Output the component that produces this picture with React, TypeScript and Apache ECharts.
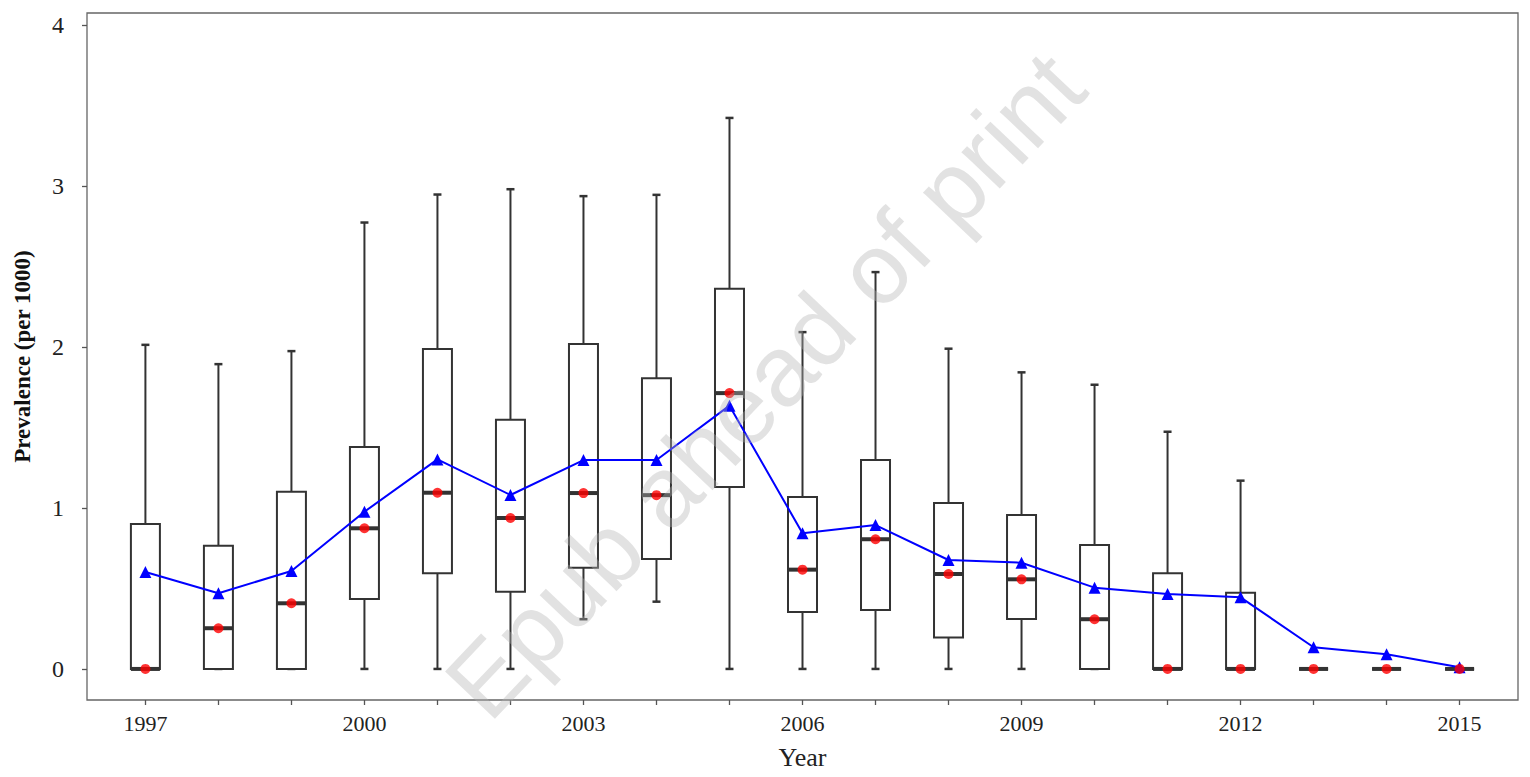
import React, { useEffect, useRef } from "react";
import * as echarts from "echarts";

const years = [1997, 1998, 1999, 2000, 2001, 2002, 2003, 2004, 2005, 2006, 2007, 2008, 2009, 2010, 2011, 2012, 2013, 2014, 2015];
const lowWhisker = [0, 0, 0, 0, 0, 0, 0.309, 0.418, 0, 0, 0, 0, 0, 0, 0, 0, 0, 0, 0];
const q1 = [0, 0, 0, 0.435, 0.594, 0.48, 0.629, 0.683, 1.13, 0.354, 0.366, 0.195, 0.311, 0, 0, 0, 0, 0, 0];
const median = [0, 0.253, 0.408, 0.874, 1.095, 0.938, 1.093, 1.08, 1.714, 0.617, 0.806, 0.59, 0.557, 0.309, 0, 0, 0, 0, 0];
const q3 = [0.9, 0.766, 1.101, 1.379, 1.988, 1.549, 2.019, 1.807, 2.362, 1.068, 1.298, 1.031, 0.957, 0.77, 0.594, 0.474, 0, 0, 0];
const highWhisker = [2.014, 1.894, 1.975, 2.774, 2.948, 2.981, 2.938, 2.946, 3.424, 2.093, 2.466, 1.99, 1.843, 1.766, 1.474, 1.17, 0, 0, 0];
const meanValues = [0.602, 0.47, 0.609, 0.977, 1.302, 1.081, 1.298, 1.298, 1.636, 0.843, 0.894, 0.677, 0.66, 0.505, 0.466, 0.445, 0.135, 0.091, 0.01];
const medianPoints = [0, 0.253, 0.408, 0.874, 1.095, 0.938, 1.093, 1.08, 1.714, 0.617, 0.806, 0.59, 0.557, 0.309, 0, 0, 0, 0, 0];
const xTickValues = years;
const xLabelValues = [1997, 2000, 2003, 2006, 2009, 2012, 2015];
const yTickValues = [0, 1, 2, 3, 4];

const FONT = "'Liberation Serif', 'Times New Roman', serif";

export default function App() {
  const ref = useRef<HTMLDivElement>(null);
  useEffect(() => {
    document.body.style.margin = "0";
    const chart = echarts.init(ref.current!, null, { renderer: "svg" });
    const boxData = years.map((y, i) => [y, lowWhisker[i], q1[i], median[i], q3[i], highWhisker[i]]);
    const stroke = "#333333";
    const option: any = {
      animation: false,
      backgroundColor: "#ffffff",
      grid: {
        left: 87,
        right: 12,
        top: 13,
        bottom: 77,
        outerBoundsMode: "none",
        containLabel: false,
        show: true,
        borderColor: "#666666",
        borderWidth: 1.3,
        backgroundColor: "transparent",
      },
      xAxis: {
        type: "value",
        position: "bottom",
        min: 1996.2,
        max: 2015.8,
        name: "Year",
        nameLocation: "middle",
        nameGap: 44,
        nameTextStyle: { fontFamily: FONT, fontSize: 26, color: "#222" },
        axisLine: { show: false, onZero: false },
        splitLine: { show: false },
        axisTick: { show: true, length: 5, customValues: xTickValues, lineStyle: { color: "#555", width: 1.3 } },
        axisLabel: {
          customValues: xLabelValues,
          fontFamily: FONT,
          fontSize: 22,
          color: "#222",
          margin: 12,
          formatter: (v: number) => String(v),
        },
      },
      yAxis: {
        type: "value",
        position: "left",
        min: -0.193,
        max: 4.076,
        name: "Prevalence (per 1000)",
        nameLocation: "middle",
        nameGap: 53,
        nameRotate: 90,
        nameTextStyle: { fontFamily: FONT, fontSize: 23, fontWeight: "bold", color: "#111" },
        axisLine: { show: false, onZero: false },
        splitLine: { show: false },
        axisTick: { show: true, length: 5, customValues: yTickValues, lineStyle: { color: "#555", width: 1.3 } },
        axisLabel: {
          customValues: yTickValues,
          fontFamily: FONT,
          fontSize: 24,
          color: "#222",
          margin: 23,
          formatter: (v: number) => String(v),
        },
      },
      series: [
        {
          type: "custom",
          z: 2,
          data: boxData,
          encode: { x: 0, y: [1, 2, 3, 4, 5] },
          renderItem: (params: any, api: any) => {
            const x = api.value(0);
            const lo = api.coord([x, api.value(1)]);
            const b1 = api.coord([x, api.value(2)]);
            const md = api.coord([x, api.value(3)]);
            const b3 = api.coord([x, api.value(4)]);
            const hi = api.coord([x, api.value(5)]);
            const cx = lo[0];
            const hw = 14.5;
            const cw = 4;
            const ls = { stroke, lineWidth: 2, fill: null };
            return {
              type: "group",
              children: [
                { type: "line", shape: { x1: cx, y1: hi[1], x2: cx, y2: b3[1] }, style: ls },
                { type: "line", shape: { x1: cx, y1: b1[1], x2: cx, y2: lo[1] }, style: ls },
                { type: "line", shape: { x1: cx - cw, y1: hi[1], x2: cx + cw, y2: hi[1] }, style: { stroke, lineWidth: 2.5 } },
                { type: "line", shape: { x1: cx - cw, y1: lo[1], x2: cx + cw, y2: lo[1] }, style: { stroke, lineWidth: 2.5 } },
                {
                  type: "rect",
                  shape: { x: cx - hw, y: b3[1], width: hw * 2, height: b1[1] - b3[1] },
                  style: { stroke, lineWidth: 2, fill: "#ffffff" },
                },
                { type: "line", shape: { x1: cx - hw, y1: md[1], x2: cx + hw, y2: md[1] }, style: { stroke, lineWidth: 4 } },
              ],
            };
          },
        },
        {
          type: "line",
          z: 3,
          data: years.map((y, i) => [y, meanValues[i]]),
          symbol: "triangle",
          symbolSize: 12,
          lineStyle: { color: "#0000ff", width: 2 },
          itemStyle: { color: "#0000ff" },
        },
        {
          type: "scatter",
          z: 4,
          data: years.map((y, i) => [y, medianPoints[i]]),
          symbol: "circle",
          symbolSize: 10,
          itemStyle: { color: "#ff0000" },
        },
      ],
      graphic: [
        {
          type: "text",
          z: 100,
          x: 765,
          y: 385,
          rotation: 0.81,
          style: {
            text: "Epub ahead of print",
            fontFamily: "'Liberation Sans', Arial, sans-serif",
            fontSize: 100,
            fill: "rgba(180,180,180,0.38)",
            textAlign: "center",
            textVerticalAlign: "middle",
          },
        },
      ],
    };
    chart.setOption(option);
    return () => chart.dispose();
  }, []);
  return <div ref={ref} style={{ width: 1530, height: 777 }} />;
}
